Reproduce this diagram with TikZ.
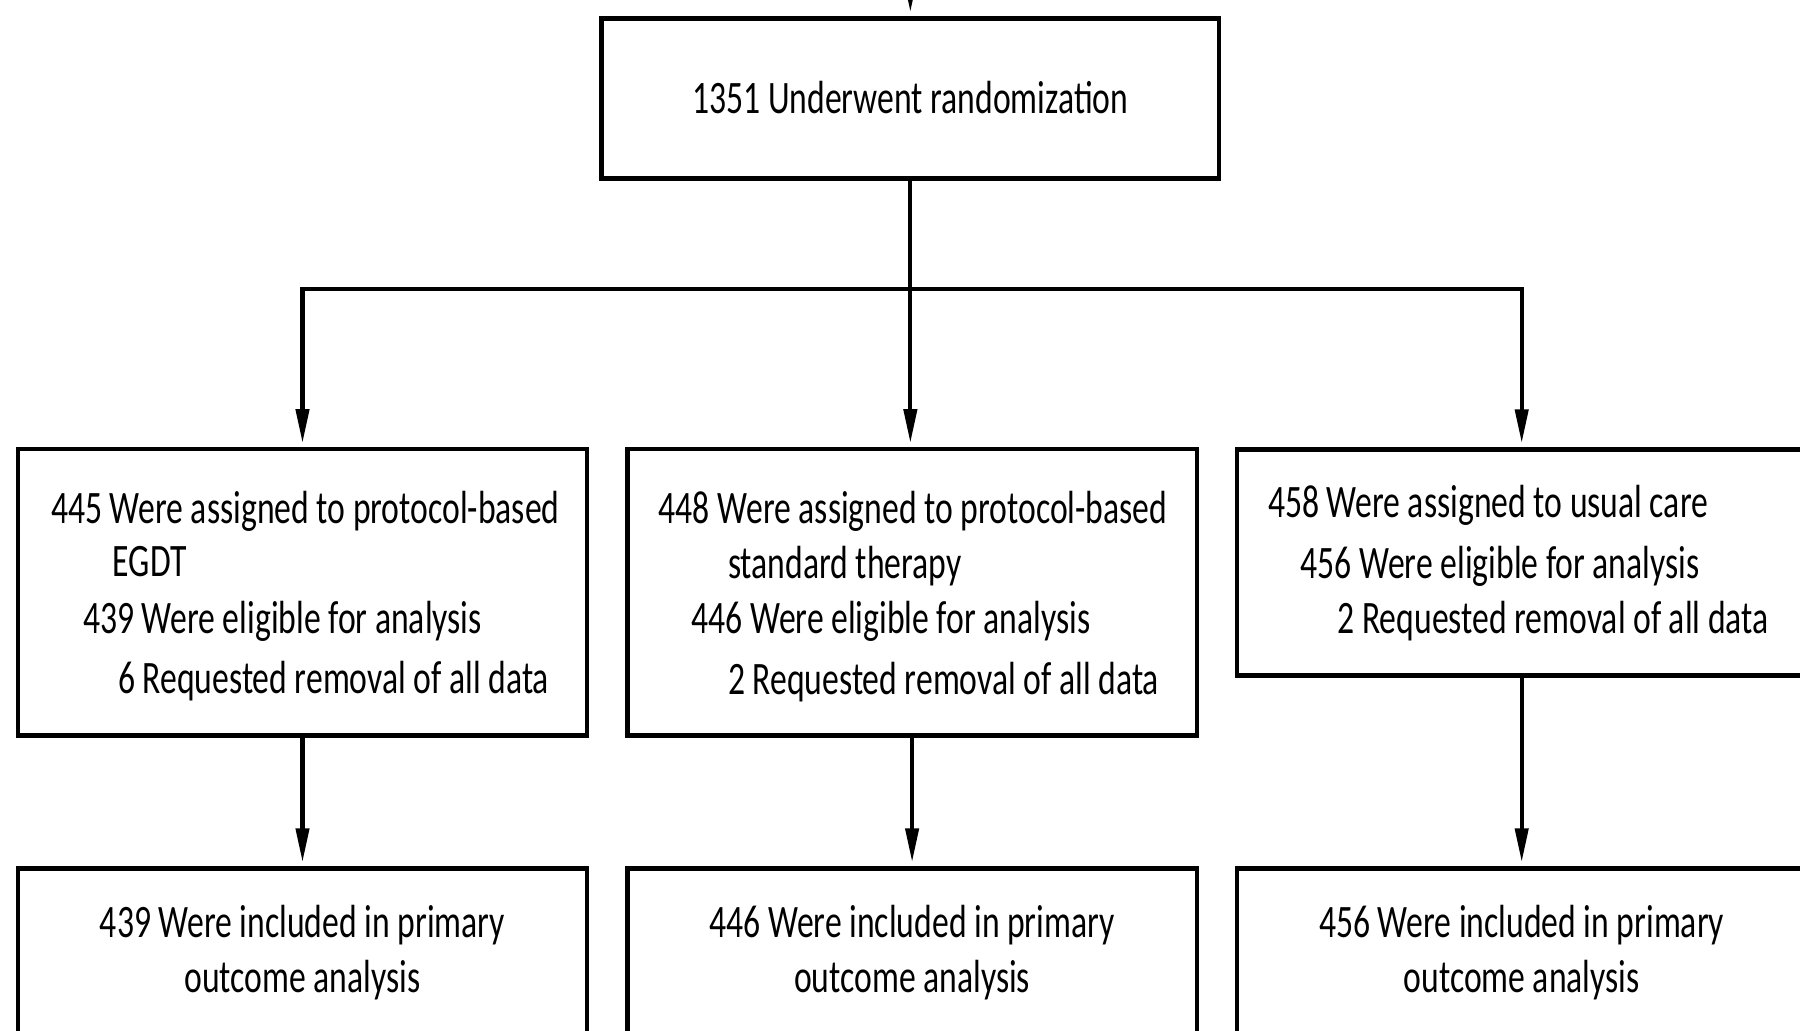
\documentclass[tikz,border=0pt]{standalone}
\usepackage{fontspec}
\newfontfamily\cfont[FakeStretch=0.724]{Carlito}
\usetikzlibrary{arrows.meta}
\begin{document}
\begin{tikzpicture}[x=1pt,y=-1pt,
  box/.style={draw=black, line width=4.5pt, inner sep=0pt, outer sep=0pt, minimum width=569.4pt},
  conn/.style={draw=black, line width=4.2pt},
  arr/.style={conn, -{Triangle[length=34pt,width=13pt]}, shorten >=6pt},
  txt/.style={anchor=base west, inner sep=0pt, outer sep=0pt, font=\cfont\fontsize{46.5pt}{56pt}\selectfont, text=black},
  ctxt/.style={txt, anchor=base}]
\path[use as bounding box, clip] (0,0) rectangle (1800,1031);
\fill[white] (0,0) rectangle (1800,1031);

% boxes
\node[box, minimum width=617.3pt, minimum height=160pt] (top) at (910.35,98.3) {};
\node[box, minimum height=286.5pt] (b1) at (302.5,592.45) {};
\node[box, minimum height=286.5pt] (b2) at (912.1,592.45) {};
\node[box, minimum height=226pt] (b3) at (1521.7,562.3) {};
\node[box, minimum height=286.5pt] (c1) at (302.5,1011.55) {};
\node[box, minimum height=286.5pt] (c2) at (912.1,1011.55) {};
\node[box, minimum height=286.5pt] (c3) at (1521.7,1011.55) {};

% texts
\node[ctxt] (t0) at (910.35,113.3) {1351 Underwent randomization};

\node[txt] (t1a) at (51,523.3) {445 Were assigned to protocol-based};
\node[txt] (t1b) at (112.7,576.7) {EGDT};
\node[txt] (t1c) at (83,633.3) {439 Were eligible for analysis};
\node[txt] (t1d) at (118,693.3) {6 Requested removal of all data};

\node[txt] (t2a) at (658.8,523.3) {448 Were assigned to protocol-based};
\node[txt] (t2b) at (728,578.3) {standard therapy};
\node[txt] (t2c) at (691.5,633.3) {446 Were eligible for analysis};
\node[txt] (t2d) at (728,694) {2 Requested removal of all data};

\node[txt] (t3a) at (1268,517) {458 Were assigned to usual care};
\node[txt] (t3b) at (1300.6,578) {456 Were eligible for analysis};
\node[txt] (t3c) at (1337.6,633) {2 Requested removal of all data};

\node[ctxt] (u1a) at (302.5,937) {439 Were included in primary};
\node[ctxt] (u1b) at (302.5,992) {outcome analysis};
\node[ctxt] (u2a) at (912.1,937) {446 Were included in primary};
\node[ctxt] (u2b) at (912.1,992) {outcome analysis};
\node[ctxt] (u3a) at (1521.7,937) {456 Were included in primary};
\node[ctxt] (u3b) at (1521.7,992) {outcome analysis};

% connectors
\coordinate (topin) at (910.35,-150);
\coordinate (j) at (910.35,288.8);
\draw[arr] (topin) -- (top.north);
\draw[conn] (top.south) -- (j);
\draw[arr] (j) -| (b1.north);
\draw[arr] (j) -- (j |- b2.north);
\draw[arr] (j) -| (b3.north);
\draw[arr] (b1.south) -- (c1.north);
\draw[arr] (b2.south) -- (c2.north);
\draw[arr] (b3.south) -- (c3.north);
\end{tikzpicture}
\end{document}
